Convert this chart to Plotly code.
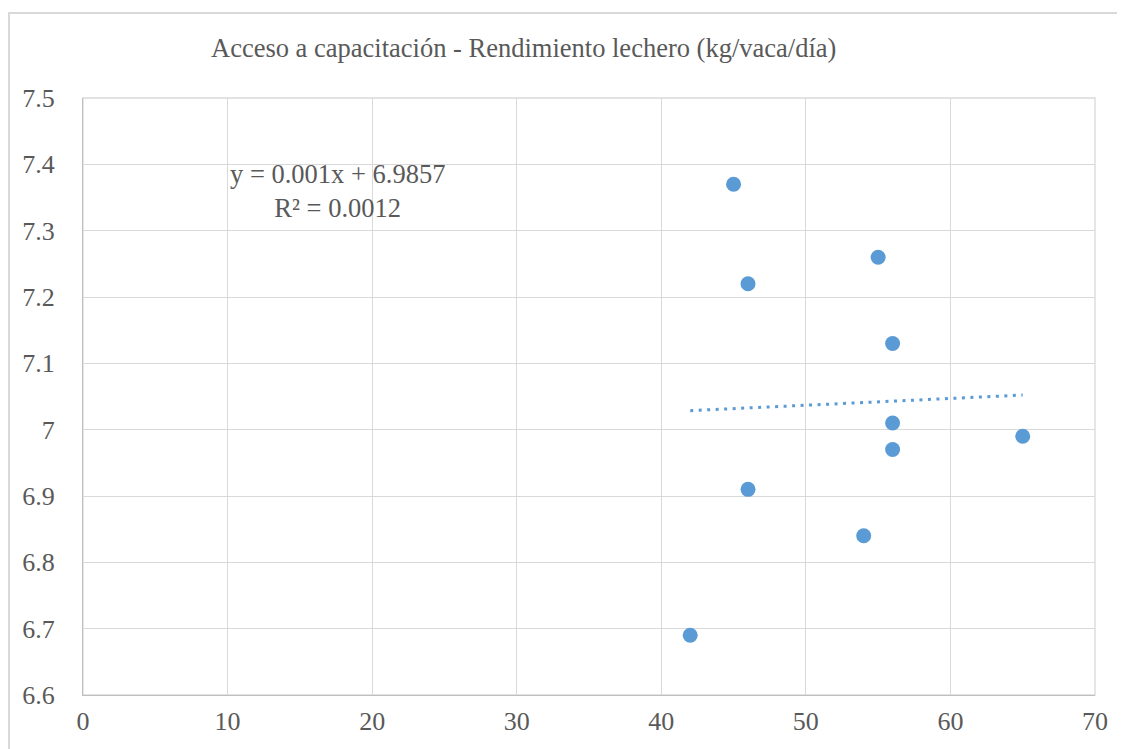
import numpy as np
import plotly.graph_objects as go

# Data
acceso = [42, 45, 46, 46, 55, 54, 56, 56, 56, 65]
rendimiento = [6.69, 7.37, 7.22, 6.91, 7.26, 6.84, 7.13, 7.01, 6.97, 6.99]
x_ticks = [0, 10, 20, 30, 40, 50, 60, 70]
y_ticks = [6.6, 6.7, 6.8, 6.9, 7.0, 7.1, 7.2, 7.3, 7.4, 7.5]
y_tick_text = ["6.6", "6.7", "6.8", "6.9", "7", "7.1", "7.2", "7.3", "7.4", "7.5"]
title_text = "Acceso a capacitación - Rendimiento lechero (kg/vaca/día)"
eq_text = "y = 0.001x + 6.9857<br>R² = 0.0012"

slope, intercept = np.polyfit(acceso, rendimiento, 1)
trend_x = [min(acceso), max(acceso)]
trend_y = [slope * v + intercept for v in trend_x]

FONT = "Liberation Serif"
GRAY = "#595959"
BLUE = "#5B9BD5"

fig = go.Figure()
fig.add_trace(go.Scatter(
    x=trend_x, y=trend_y, mode="lines",
    line=dict(color=BLUE, width=3, dash="3px,5.5px"),
    showlegend=False, hoverinfo="skip"))
fig.add_trace(go.Scatter(
    x=acceso, y=rendimiento, mode="markers",
    marker=dict(color=BLUE, size=15, line=dict(width=0)),
    showlegend=False))

fig.update_layout(
    width=1125, height=749,
    margin=dict(l=75, r=38, t=90, b=62),
    paper_bgcolor="white", plot_bgcolor="white",
    font=dict(family=FONT, color=GRAY, size=26),
    xaxis=dict(range=[0, 70], tickvals=x_ticks, ticks="", showgrid=True,
               gridcolor="#D9D9D9", gridwidth=1.3, zeroline=False,
               showline=True, linecolor="#BFBFBF", linewidth=1.3, mirror=False,
               tickfont=dict(family=FONT, size=26, color=GRAY), ticklabelstandoff=3),
    yaxis=dict(range=[6.6, 7.5], tickvals=y_ticks, ticktext=y_tick_text, ticks="",
               showgrid=True, gridcolor="#D9D9D9", gridwidth=1.3, zeroline=False,
               showline=True, linecolor="#BFBFBF", linewidth=1.3,
               tickfont=dict(family=FONT, size=26, color=GRAY), ticklabelstandoff=22),
    shapes=[
        dict(type="rect", xref="paper", yref="paper", x0=0, x1=1, y0=0, y1=1,
             line=dict(color="#D9D9D9", width=1.3), layer="below"),
        dict(type="rect", xref="paper", yref="paper",
             x0=-0.0731, x1=1.1, y0=-0.2, y1=1.1424,
             line=dict(color="#D9D9D9", width=2)),
    ],
    annotations=[
        dict(text=title_text, xref="paper", yref="paper", x=0.435, y=1.084,
             showarrow=False, xanchor="center", yanchor="middle",
             font=dict(family=FONT, size=26.5, color=GRAY)),
        dict(text=eq_text, xref="x", yref="y", x=17.6, y=7.36,
             showarrow=False, xanchor="center", yanchor="middle", align="center",
             font=dict(family=FONT, size=26.5, color=GRAY)),
    ],
)

fig.write_html("out.html")
